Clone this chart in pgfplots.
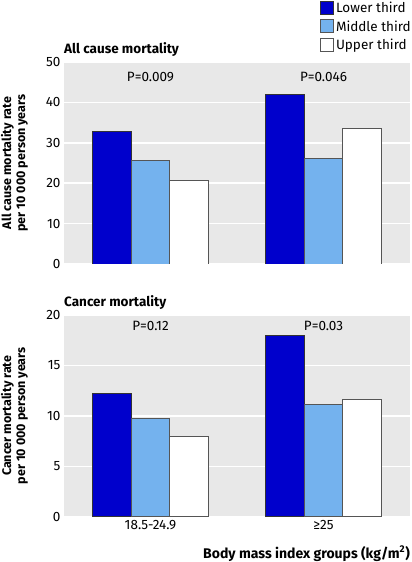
\documentclass[border=0pt]{standalone}
\usepackage{fontspec}
\setmainfont{Fira Sans}
\usepackage{pgfplots}
\usepackage{pgfplotstable}
\pgfplotsset{compat=1.18}
\definecolor{lowc}{RGB}{0,0,204}
\definecolor{midc}{RGB}{116,178,238}
\definecolor{bgc}{RGB}{232,232,232}
\definecolor{edge}{RGB}{85,85,85}

\pgfplotstableread{
x low mid up
0 32.8 25.6 20.6
1 41.9 26.1 33.6
}\allcause
\pgfplotstableread{
x low mid up
0 12.2 9.7 7.95
1 18.0 11.1 11.65
}\cancer

\pgfplotsset{
  common/.style={
    scale only axis, width=346pt, height=202pt,
    anchor=south west,
    ybar=0pt, bar width=38.7pt,
    xmin=-0.5, xmax=1.5, xtick={0,1},
    axis background/.style={fill=bgc},
    axis line style={draw=none},
    major tick length=0pt,
    ymajorgrids, grid style={white, line width=1.5pt},
    tick label style={font=\fontsize{13.5}{15}\selectfont},
    /pgf/number format/assume math mode=true,
    title style={at={(0,1)}, anchor=south west, inner sep=0pt, yshift=-1pt, font=\fontsize{13.5}{15}\selectfont\bfseries},
    ylabel style={at={(axis description cs:-0.104,0.5)}, anchor=south, align=center, font=\fontsize{12.5}{14}\selectfont\bfseries, inner sep=0pt},
    every axis plot post/.append style={legend image code/.code={\draw[##1, line width=0.8pt] (0pt,-6pt) rectangle (13pt,7pt);}},
  },
  lowb/.style={fill=lowc, draw=black!80, line width=0.9pt},
  midb/.style={fill=midc, draw=edge, line width=0.9pt},
  upb/.style={fill=white, draw=edge, line width=0.9pt},
}

\begin{document}
\begin{tikzpicture}[x=1pt,y=1pt]
\useasboundingbox (-64,-298) rectangle (348,264);
\begin{axis}[common, at={(0,0)},
  ymin=0, ymax=50, ytick={0,10,...,50},
  xticklabels={},
  title={All cause mortality},
  ylabel={All cause mortality rate\\per 10 000 person years},
  legend style={at={(axis description cs:0.74,1.307)}, anchor=north west, draw=none, fill=none,
    font=\fontsize{13.5}{16}\selectfont, row sep=2.5pt, inner sep=0pt},
  legend cell align=left,
]
\addplot[lowb] table[x=x,y=low] {\allcause};
\addplot[midb] table[x=x,y=mid] {\allcause};
\addplot[upb] table[x=x,y=up] {\allcause};
\legend{Lower third, Middle third, Upper third}
\node[font=\fontsize{13.5}{15}\selectfont] at (axis cs:0,46.3) {P=0.009};
\node[font=\fontsize{13.5}{15}\selectfont] at (axis cs:1,46.3) {P=0.046};
\end{axis}
\begin{axis}[common, at={(0,-250.3)},
  ymin=0, ymax=20, ytick={0,5,...,20},
  xticklabels={18.5-24.9, ≥25},
  title={Cancer mortality},
  ylabel={Cancer mortality rate\\per 10 000 person years},
  xlabel={Body mass index groups (kg/m\textsuperscript{2})},
  xlabel style={at={(axis description cs:1,0)}, anchor=north east, yshift=-29pt, font=\fontsize{14}{16}\selectfont\bfseries, inner sep=0pt},
]
\addplot[lowb] table[x=x,y=low] {\cancer};
\addplot[midb] table[x=x,y=mid] {\cancer};
\addplot[upb] table[x=x,y=up] {\cancer};
\node[font=\fontsize{13.5}{15}\selectfont] at (axis cs:0,18.9) {P=0.12};
\node[font=\fontsize{13.5}{15}\selectfont] at (axis cs:1,18.9) {P=0.03};
\end{axis}
\end{tikzpicture}
\end{document}
